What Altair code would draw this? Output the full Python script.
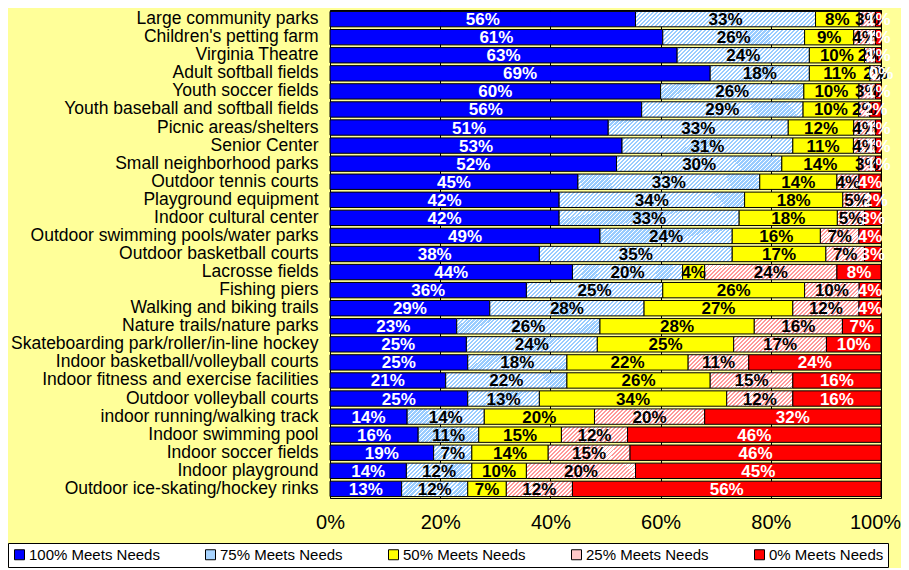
import altair as alt

categories = [
    "Large community parks", "Children's petting farm", "Virginia Theatre",
    "Adult softball fields", "Youth soccer fields", "Youth baseball and softball fields",
    "Picnic areas/shelters", "Senior Center", "Small neighborhood parks",
    "Outdoor tennis courts", "Playground equipment", "Indoor cultural center",
    "Outdoor swimming pools/water parks", "Outdoor basketball courts", "Lacrosse fields",
    "Fishing piers", "Walking and biking trails", "Nature trails/nature parks",
    "Skateboarding park/roller/in-line hockey", "Indoor basketball/volleyball courts",
    "Indoor fitness and exercise facilities", "Outdoor volleyball courts",
    "indoor running/walking track", "Indoor swimming pool", "Indoor soccer fields",
    "Indoor playground", "Outdoor ice-skating/hockey rinks",
]
levels = ["100% Meets Needs", "75% Meets Needs", "50% Meets Needs", "25% Meets Needs", "0% Meets Needs"]

meets_100 = [56, 61, 63, 69, 60, 56, 51, 53, 52, 45, 42, 42, 49, 38, 44, 36, 29, 23, 25, 25, 21, 25, 14, 16, 19, 14, 13]
meets_75 = [33, 26, 24, 18, 26, 29, 33, 31, 30, 33, 34, 33, 24, 35, 20, 25, 28, 26, 24, 18, 22, 13, 14, 11, 7, 12, 12]
meets_50 = [8, 9, 10, 11, 10, 10, 12, 11, 14, 14, 18, 18, 16, 17, 4, 26, 27, 28, 25, 22, 26, 34, 20, 15, 14, 10, 7]
meets_25 = [3, 4, 2, 2, 3, 2, 4, 4, 3, 4, 5, 5, 7, 7, 24, 10, 12, 16, 17, 11, 15, 12, 20, 12, 15, 20, 12]
meets_0 = [1, 1, 1, 0, 1, 2, 1, 1, 1, 4, 2, 3, 4, 3, 8, 4, 4, 7, 10, 24, 16, 16, 32, 46, 46, 45, 56]

PLOT_W = 551
PLOT_H = 488
BAR_H = 15.5
solid = {0: "#0000FF", 2: "#FFFF00", 4: "#FF0000"}
hatch = {1: ("#99CCFF", "#FFFFFF"), 3: ("#FFFFFF", "#FF9999")}
legend_colors = ["#0000FF", "#A8D4FF", "#FFFF00", "#FFC8C8", "#FF0000"]
text_colors = ["#FFFFFF", "#000000", "#000000", "#000000", "#FFFFFF"]


def hatch_fill(w, h, bg, fg, period=4.0, frac=0.45):
    w = max(w, 1.0)
    r = h / w
    a = (1 + r) / (1 + r * r)
    n = max(1, int(round((w + h) / period)))
    stops = []
    for k in range(n):
        o0 = k / n
        o1 = (k + frac) / n
        o2 = (k + 1) / n
        stops += [
            {"offset": o0, "color": fg},
            {"offset": o1, "color": fg},
            {"offset": o1, "color": bg},
            {"offset": o2, "color": bg},
        ]
    return {"gradient": "linear", "x1": 0, "y1": 0, "x2": a, "y2": r * a, "stops": stops}


series = [meets_100, meets_75, meets_50, meets_25, meets_0]
records = []
for i, cat in enumerate(categories):
    total = sum(s[i] for s in series)
    for j, s in enumerate(series):
        v = s[i]
        if j in solid:
            fill = solid[j]
        else:
            bg, fg = hatch[j]
            fill = hatch_fill(v / total * PLOT_W, BAR_H, bg, fg)
        records.append({
            "cat": cat, "level": levels[j], "order": j, "value": v,
            "label": f"{v}%", "fill": fill, "tcolor": text_colors[j],
        })

data = alt.Data(values=records)
FONT = "Liberation Sans"

base = alt.Chart(data).transform_stack(
    stack="value", groupby=["cat"], as_=["x0", "x1"], offset="normalize",
    sort=[alt.SortField("order")],
).transform_calculate(mid="(datum.x0 + datum.x1) / 2")

yenc = alt.Y("cat:N", sort=categories, title=None,
             scale=alt.Scale(paddingInner=0.15, paddingOuter=0.08),
             axis=alt.Axis(labelFontSize=17.5, labelFont=FONT, labelColor="#000", ticks=False,
                           domain=False, labelPadding=12, labelLimit=400))
xscale = alt.Scale(domain=[0, 1], nice=False, zero=False)

bars = base.mark_bar(stroke="#000", strokeWidth=1).encode(
    y=yenc,
    x=alt.X("x0:Q", scale=xscale, title=None,
            axis=alt.Axis(values=[0, 0.2, 0.4, 0.6, 0.8, 1.0], format=".0%", labelFontSize=20,
                          labelFont=FONT, labelColor="#000", ticks=False, domain=False,
                          labelPadding=14, grid=True, gridColor="#000", gridWidth=1,
                          labelFlush=False,
                          labelOffset=alt.expr("datum.value === 1 ? -6 : 0"))),
    x2="x1:Q",
    fill=alt.Fill("fill:N", scale=None),
)

texts = base.mark_text(fontWeight="bold", fontSize=17, font=FONT, baseline="middle", dy=1).encode(
    y=alt.Y("cat:N", sort=categories),
    x=alt.X("mid:Q", scale=xscale),
    text="label:N",
    color=alt.Color("tcolor:N", scale=None),
)

legend_layer = alt.Chart(alt.Data(values=[{"level": l} for l in levels])).mark_square(opacity=0, size=1).encode(
    fill=alt.Fill("level:N", scale=alt.Scale(domain=levels, range=legend_colors),
                  legend=alt.Legend(title=None, orient="none", legendX=-322, legendY=533,
                                    direction="horizontal", columns=5, fillColor="#FFFFFF",
                                    strokeColor="#000", padding=4, labelFontSize=15,
                                    labelFont=FONT, labelColor="#000", symbolType="square",
                                    symbolSize=100, symbolOpacity=1, symbolStrokeColor="#000",
                                    symbolStrokeWidth=1, symbolOffset=0, labelOffset=2,
                                    columnPadding=43, labelLimit=300)),
)

chart = alt.layer(bars, texts, legend_layer).properties(
    width=PLOT_W, height=PLOT_H,
    background="#FFFF99",
    padding={"left": 322, "top": 2, "right": 20, "bottom": 70},
    autosize=alt.AutoSizeParams(type="none"),
).configure_view(fill="#C0C0C0", stroke="#000", strokeWidth=1)

chart.save("out.html", embed_options={"renderer": "svg", "actions": False})
